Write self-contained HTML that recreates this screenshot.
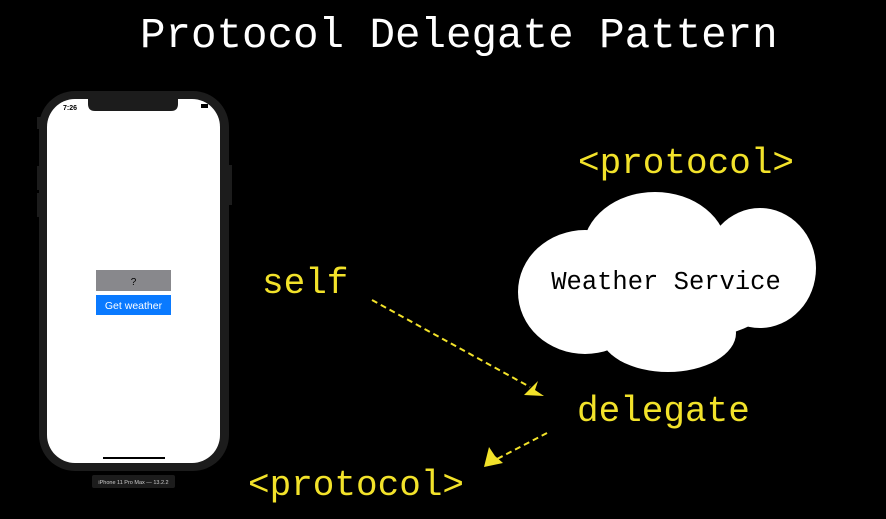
<!DOCTYPE html>
<html><head><style>
body{margin:0;width:886px;height:519px;background:#000;overflow:hidden;position:relative;font-family:"Liberation Mono",monospace}
.t{position:absolute;white-space:nowrap;line-height:1}
.y{color:#f2e22a;font-size:36px}
</style></head><body>
<div class="t" style="left:140px;top:15px;color:#fff;font-size:42.5px">Protocol Delegate Pattern</div>
<div class="t y" style="left:578px;top:146px">&lt;protocol&gt;</div>
<div class="t y" style="left:262px;top:266px">self</div>
<div class="t y" style="left:577px;top:394px">delegate</div>
<div class="t y" style="left:248px;top:468px">&lt;protocol&gt;</div>
<svg width="886" height="519" style="position:absolute;left:0;top:0">
<g fill="#fff">
<ellipse cx="655" cy="250" rx="72" ry="58"/>
<ellipse cx="760" cy="268" rx="56" ry="60"/>
<ellipse cx="585" cy="292" rx="67" ry="62"/>
<ellipse cx="668" cy="333" rx="68" ry="39"/>
<ellipse cx="680" cy="290" rx="100" ry="50"/>
</g>
<text x="666" y="289" text-anchor="middle" font-family="Liberation Mono,monospace" font-size="25.5" fill="#000">Weather Service</text>
<g stroke="#f2e22a" stroke-width="2" stroke-dasharray="6,4" fill="none">
<line x1="372" y1="300" x2="530" y2="387"/>
<line x1="547" y1="433" x2="497" y2="459"/>
</g>
<polygon points="544,396 524,395 538,381 535,390" fill="#f2e22a"/>
<polygon points="484,467 489,447 495,456 503,463" fill="#f2e22a"/>
<rect x="37" y="117" width="4" height="12" fill="#1c1c1c"/>
<rect x="37" y="166" width="4" height="24" fill="#1c1c1c"/>
<rect x="37" y="193" width="4" height="24" fill="#1c1c1c"/>
<rect x="228" y="165" width="4" height="40" fill="#1c1c1c"/>
<rect x="39" y="91" width="190" height="380" rx="36" fill="#1c1c1c"/>
<rect x="47" y="99" width="173" height="364" rx="28" fill="#fff"/>
<path d="M88 99 H178 V104 Q178 111 171 111 H95 Q88 111 88 104 Z" fill="#1c1c1c"/>
<text x="63" y="110" font-family="Liberation Sans,sans-serif" font-size="7" font-weight="bold" fill="#000">7:26</text>
<rect x="201" y="104" width="7" height="4" fill="#000"/>
<rect x="96" y="270" width="75" height="21" fill="#88888c"/>
<text x="133.5" y="285" text-anchor="middle" font-family="Liberation Sans,sans-serif" font-size="10" fill="#000">?</text>
<rect x="96" y="295" width="75" height="20" fill="#0a7aff"/>
<text x="133.5" y="309" text-anchor="middle" font-family="Liberation Sans,sans-serif" font-size="10.5" fill="#fff">Get weather</text>
<rect x="103" y="457" width="62" height="2" fill="#000"/>
<rect x="92" y="475" width="83" height="13" rx="2" fill="#1c1c1c"/>
<text x="133.5" y="484" text-anchor="middle" font-family="Liberation Sans,sans-serif" font-size="5.5" fill="#ccc">iPhone 11 Pro Max — 13.2.2</text>
</svg>
</body></html>
